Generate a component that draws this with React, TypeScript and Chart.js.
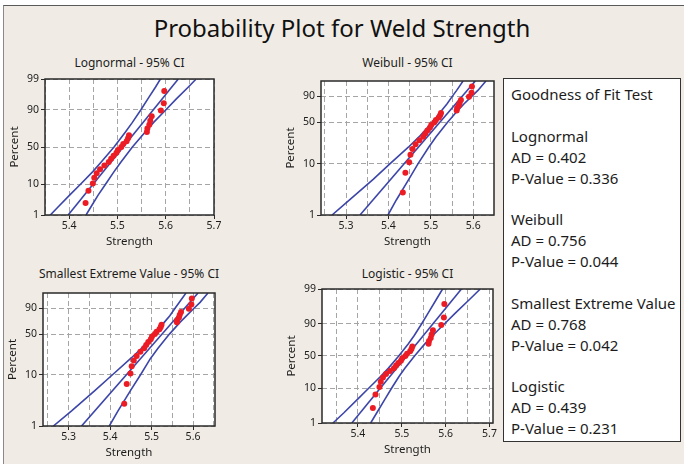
import React, { useEffect, useRef } from "react";
import { Chart, registerables, Scale } from "chart.js";

Chart.register(...registerables);

// ---------------- data ----------------
const strengthValues = [
  5.434, 5.44, 5.449, 5.452, 5.457, 5.464, 5.473, 5.482, 5.487, 5.492, 5.498, 5.501, 5.508,
  5.512, 5.519, 5.522, 5.524, 5.561, 5.562, 5.566, 5.568, 5.571, 5.59, 5.596, 5.597,
];
const plottingPercent = [
  2.76, 6.69, 10.63, 14.57, 18.5, 22.44, 26.38, 30.31, 34.25, 38.19, 42.13, 46.06, 50.0,
  53.94, 57.87, 61.81, 65.75, 69.69, 73.62, 77.56, 81.5, 85.43, 89.37, 93.31, 97.24,
];

const fitPercent = [1, 99];
const bandPercent = [1, 2, 5, 10, 20, 30, 50, 70, 80, 90, 95, 98, 99];
const bandPercentEV = [1, 2, 5, 10, 20, 30, 50, 70, 80, 90, 95, 99];

const lognormalFit = [5.398, 5.626];
const lognormalLower = [5.361, 5.377, 5.401, 5.423, 5.449, 5.466, 5.493, 5.517, 5.531, 5.549, 5.563, 5.579, 5.589];
const lognormalUpper = [5.435, 5.445, 5.46, 5.475, 5.493, 5.507, 5.531, 5.558, 5.575, 5.601, 5.622, 5.647, 5.663];

const weibullFit = [5.333, 5.605];
const weibullLower = [5.267, 5.309, 5.364, 5.404, 5.447, 5.472, 5.503, 5.526, 5.538, 5.551, 5.561, 5.576];
const weibullUpper = [5.399, 5.419, 5.448, 5.47, 5.495, 5.512, 5.539, 5.564, 5.578, 5.597, 5.611, 5.63];

const sevFit = [5.331, 5.612];
const sevLower = [5.263, 5.307, 5.363, 5.405, 5.449, 5.475, 5.507, 5.531, 5.544, 5.557, 5.567, 5.583];
const sevUpper = [5.398, 5.419, 5.449, 5.473, 5.497, 5.515, 5.543, 5.569, 5.584, 5.603, 5.617, 5.636];

const logisticFit = [5.386, 5.636];
const logisticLower = [5.343, 5.368, 5.4, 5.425, 5.452, 5.469, 5.493, 5.515, 5.528, 5.545, 5.56, 5.579, 5.593];
const logisticUpper = [5.429, 5.443, 5.462, 5.477, 5.494, 5.507, 5.529, 5.553, 5.57, 5.597, 5.622, 5.655, 5.679];

const percentTicksFull = [1, 10, 50, 90, 99];
const percentTicksEV = [1, 10, 50, 90];
const lognormalXTicks = [5.35, 5.4, 5.45, 5.5, 5.55, 5.6, 5.65, 5.7];
const weibullXTicks = [5.25, 5.3, 5.35, 5.4, 5.45, 5.5, 5.55, 5.6];
const sevXTicks = [5.25, 5.3, 5.35, 5.4, 5.45, 5.5, 5.55, 5.6, 5.65];
const logisticXTicks = [5.35, 5.4, 5.45, 5.5, 5.55, 5.6, 5.65, 5.7];

const mainTitle = "Probability Plot for Weld Strength";
const gofLines = [
  "Goodness of Fit Test", "",
  "Lognormal", "AD = 0.402", "P-Value = 0.336", "",
  "Weibull", "AD = 0.756", "P-Value = 0.044", "",
  "Smallest Extreme Value", "AD = 0.768", "P-Value = 0.042", "",
  "Logistic", "AD = 0.439", "P-Value = 0.231",
];

// ---------------- probability scale ----------------
function probit(p: number): number {
  const a = [-39.69683028665376, 220.9460984245205, -275.9285104469687, 138.357751867269, -30.66479806614716, 2.506628277459239];
  const b = [-54.47609879822406, 161.5858368580409, -155.6989798598866, 66.80131188771972, -13.28068155288572];
  const c = [-0.007784894002430293, -0.3223964580411365, -2.400758277161838, -2.549732539343734, 4.374664141464968, 2.938163982698783];
  const d = [0.007784695709041462, 0.3224671290700398, 2.445134137142996, 3.754408661907416];
  const pl = 0.02425;
  if (p < pl) {
    const q = Math.sqrt(-2 * Math.log(p));
    return (((((c[0] * q + c[1]) * q + c[2]) * q + c[3]) * q + c[4]) * q + c[5]) / ((((d[0] * q + d[1]) * q + d[2]) * q + d[3]) * q + 1);
  }
  if (p <= 1 - pl) {
    const q = p - 0.5;
    const r = q * q;
    return ((((((a[0] * r + a[1]) * r + a[2]) * r + a[3]) * r + a[4]) * r + a[5]) * q) / (((((b[0] * r + b[1]) * r + b[2]) * r + b[3]) * r + b[4]) * r + 1);
  }
  const q = Math.sqrt(-2 * Math.log(1 - p));
  return -(((((c[0] * q + c[1]) * q + c[2]) * q + c[3]) * q + c[4]) * q + c[5]) / ((((d[0] * q + d[1]) * q + d[2]) * q + d[3]) * q + 1);
}

const transforms: Record<string, (p: number) => number> = {
  normal: (p) => probit(p),
  sev: (p) => Math.log(-Math.log(1 - p)),
  logistic: (p) => Math.log(p / (1 - p)),
};

class ProbabilityScale extends (Scale as any) {
  static id = "probability";
  static defaults = {};
  _tmin = 0;
  _tmax = 1;
  determineDataLimits() {
    this.min = this.options.min ?? 1;
    this.max = this.options.max ?? 99;
  }
  buildTicks() {
    return [];
  }
  getLabelForValue(v: number) {
    return String(v);
  }
  _f(v: number) {
    const fn = transforms[this.options.dist] || transforms.normal;
    return fn(v / 100);
  }
  configure() {
    super.configure();
    this._tmin = this._f(this.min);
    this._tmax = this._f(this.max);
  }
  getPixelForValue(v: number) {
    return this.getPixelForDecimal((this._f(v) - this._tmin) / (this._tmax - this._tmin));
  }
  getValueForPixel(px: number) {
    const d = this.getDecimalForPixel(px);
    return this.min + d * (this.max - this.min);
  }
}
Chart.register(ProbabilityScale as any);

// ---------------- styling ----------------
const FONT = "'Noto Sans', 'DejaVu Sans', sans-serif";
const RED = "#ec1c24";
const BLUE = "#3c45a8";
const GRID = "#a5a5a5";
const TEXT = "#1c1c1c";
const BG = "#f0ece5";

const chartAreaPlugin = {
  id: "areaFrame",
  beforeDraw(chart: any) {
    const { ctx, chartArea: a } = chart;
    ctx.save();
    ctx.fillStyle = "#ffffff";
    ctx.fillRect(a.left, a.top, a.right - a.left, a.bottom - a.top);
    ctx.restore();
  },
  afterDraw(chart: any) {
    const { ctx, chartArea: a } = chart;
    ctx.save();
    ctx.strokeStyle = "#2a2a2a";
    ctx.lineWidth = 1.5;
    ctx.strokeRect(a.left, a.top, a.right - a.left, a.bottom - a.top);
    ctx.restore();
  },
};

type PanelSpec = {
  title: string;
  dist: string;
  cx: number; cy: number; cw: number; ch: number;
  plot: { l: number; r: number; t: number; b: number };
  xMin: number; xMax: number;
  xTicks: number[];
  yMax: number;
  yTicks: number[];
  fit: number[];
  lower: number[];
  upper: number[];
  bandPct: number[];
  titleY: number;
};

const panels: PanelSpec[] = [
  {
    title: "Lognormal - 95% CI", dist: "normal",
    cx: 0, cy: 68, cw: 232, ch: 182,
    plot: { l: 45, r: 214, t: 79, b: 215 },
    xMin: 5.35, xMax: 5.7, xTicks: lognormalXTicks,
    yMax: 99, yTicks: percentTicksFull,
    fit: lognormalFit, lower: lognormalLower, upper: lognormalUpper, bandPct: bandPercent,
    titleY: 63,
  },
  {
    title: "Weibull - 95% CI", dist: "sev",
    cx: 276, cy: 68, cw: 226, ch: 182,
    plot: { l: 321, r: 494, t: 81, b: 215 },
    xMin: 5.241, xMax: 5.649, xTicks: weibullXTicks,
    yMax: 99, yTicks: percentTicksEV,
    fit: weibullFit, lower: weibullLower, upper: weibullUpper, bandPct: bandPercentEV,
    titleY: 63,
  },
  {
    title: "Smallest Extreme Value - 95% CI", dist: "sev",
    cx: 0, cy: 282, cw: 232, ch: 180,
    plot: { l: 43, r: 215, t: 293, b: 426 },
    xMin: 5.238, xMax: 5.653, xTicks: sevXTicks,
    yMax: 99, yTicks: percentTicksEV,
    fit: sevFit, lower: sevLower, upper: sevUpper, bandPct: bandPercentEV,
    titleY: 273.5,
  },
  {
    title: "Logistic - 95% CI", dist: "logistic",
    cx: 276, cy: 278, cw: 226, ch: 182,
    plot: { l: 322, r: 493, t: 289, b: 423 },
    xMin: 5.318, xMax: 5.708, xTicks: logisticXTicks,
    yMax: 99, yTicks: percentTicksFull,
    fit: logisticFit, lower: logisticLower, upper: logisticUpper, bandPct: bandPercent,
    titleY: 273.5,
  },
];

const isLabelled = (v: number) => Math.round(v * 20) % 2 === 0;

const AXIS_TITLE_SIZE = 11.5;

function buildConfig(p: PanelSpec): any {
  const yW = p.plot.l - p.cx;
  const padR = p.cx + p.cw - p.plot.r;
  const padT = p.plot.t - p.cy;
  const xH = p.cy + p.ch - p.plot.b;
  const lh = AXIS_TITLE_SIZE * 1.2;
  const yTitlePad = yW - 30.5 - lh / 2;
  const xTitlePad = xH - 27 - lh / 2;
  const line = (xs: number[], ys: number[]) => ({
    data: xs.map((x, i) => ({ x, y: ys[i] })),
    showLine: true,
    borderColor: BLUE,
    borderWidth: 1.6,
    pointRadius: 0,
    fill: false,
  });
  return {
    type: "scatter",
    data: {
      datasets: [
        {
          data: strengthValues.map((x, i) => ({ x, y: plottingPercent[i] })),
          showLine: false,
          pointRadius: 3,
          pointBackgroundColor: RED,
          pointBorderWidth: 0,
        },
        line(p.lower, p.bandPct),
        line(p.fit, fitPercent),
        line(p.upper, p.bandPct),
      ],
    },
    options: {
      animation: false,
      responsive: false,
      maintainAspectRatio: false,
      events: [],
      layout: { padding: { left: 0, right: padR, top: padT, bottom: 0 } },
      plugins: { legend: { display: false }, tooltip: { enabled: false }, title: { display: false } },
      scales: {
        x: {
          type: "linear",
          min: p.xMin,
          max: p.xMax,
          afterBuildTicks: (s: any) => {
            s.ticks = p.xTicks.map((v) => ({ value: v }));
          },
          afterFit: (s: any) => {
            s.height = xH;
          },
          ticks: {
            autoSkip: false,
            maxRotation: 0,
            padding: 1,
            color: TEXT,
            font: { family: FONT, size: 10.5 },
            callback: (v: number) => (isLabelled(v) ? v.toFixed(1) : ""),
          },
          grid: {
            color: GRID,
            lineWidth: 1,
            drawTicks: true,
            tickLength: 4,
            tickWidth: 1,
            tickColor: (ctx: any) => (ctx.tick && isLabelled(ctx.tick.value) ? "#2a2a2a" : "rgba(0,0,0,0)"),
          },
          border: { display: false, dash: [5, 3] },
          title: {
            display: true,
            text: "Strength",
            color: TEXT,
            font: { family: FONT, size: AXIS_TITLE_SIZE },
            padding: { top: 0, bottom: xTitlePad },
          },
        },
        y: {
          type: "probability",
          dist: p.dist,
          min: 1,
          max: p.yMax,
          position: "left",
          afterBuildTicks: (s: any) => {
            s.ticks = p.yTicks.map((v) => ({ value: v }));
          },
          afterFit: (s: any) => {
            s.width = yW;
          },
          ticks: {
            autoSkip: false,
            padding: 2,
            color: TEXT,
            font: { family: FONT, size: 10.5 },
            callback: (v: number) => String(v),
          },
          grid: {
            color: GRID,
            lineWidth: 1,
            drawTicks: true,
            tickLength: 4,
            tickWidth: 1,
            tickColor: "#2a2a2a",
          },
          border: { display: false, dash: [5, 3] },
          title: {
            display: true,
            text: "Percent",
            color: TEXT,
            font: { family: FONT, size: AXIS_TITLE_SIZE },
            padding: { top: yTitlePad, bottom: 0 },
          },
        },
      },
    },
    plugins: [chartAreaPlugin],
  };
}

function Panel({ spec }: { spec: PanelSpec }) {
  const ref = useRef<HTMLCanvasElement | null>(null);
  useEffect(() => {
    if (!ref.current) return;
    const chart = new Chart(ref.current, buildConfig(spec));
    return () => chart.destroy();
  }, [spec]);
  return (
    <>
      <div
        style={{
          position: "absolute",
          left: spec.plot.l - 40,
          width: spec.plot.r - spec.plot.l + 80,
          top: spec.titleY - 8,
          height: 16,
          lineHeight: "16px",
          textAlign: "center",
          fontFamily: FONT,
          fontSize: 12,
          color: TEXT,
          whiteSpace: "nowrap",
        }}
      >
        {spec.title}
      </div>
      <canvas
        ref={ref}
        width={spec.cw}
        height={spec.ch}
        style={{ position: "absolute", left: spec.cx, top: spec.cy, width: spec.cw, height: spec.ch }}
      />
    </>
  );
}

export default function App() {
  return (
    <div style={{ position: "absolute", left: 0, top: 0, width: 684, height: 464, background: "#ffffff", overflow: "hidden" }}>
      <div
        style={{
          position: "absolute",
          left: 3,
          top: 5,
          width: 690,
          height: 470,
          background: BG,
          borderTop: "1.5px solid #5a5a5a",
          borderLeft: "1px solid #8a8a8a",
          boxSizing: "border-box",
        }}
      />
      <div
        style={{
          position: "absolute",
          left: 0,
          width: 684,
          top: 12,
          height: 32,
          lineHeight: "32px",
          textAlign: "center",
          fontFamily: FONT,
          fontSize: 24,
          color: "#111",
          whiteSpace: "nowrap",
        }}
      >
        {mainTitle}
      </div>
      {panels.map((p) => (
        <Panel key={p.title} spec={p} />
      ))}
      <div
        style={{
          position: "absolute",
          left: 503,
          top: 78,
          width: 178,
          height: 364,
          boxSizing: "border-box",
          border: "1px solid #333",
          background: "#ffffff",
          paddingLeft: 7,
          paddingTop: 5,
          fontFamily: FONT,
          fontSize: 15,
          lineHeight: "20.9px",
          color: TEXT,
          whiteSpace: "nowrap",
        }}
      >
        {gofLines.map((t, i) => (
          <div key={i} style={{ height: "20.9px" }}>
            {t}
          </div>
        ))}
      </div>
    </div>
  );
}
